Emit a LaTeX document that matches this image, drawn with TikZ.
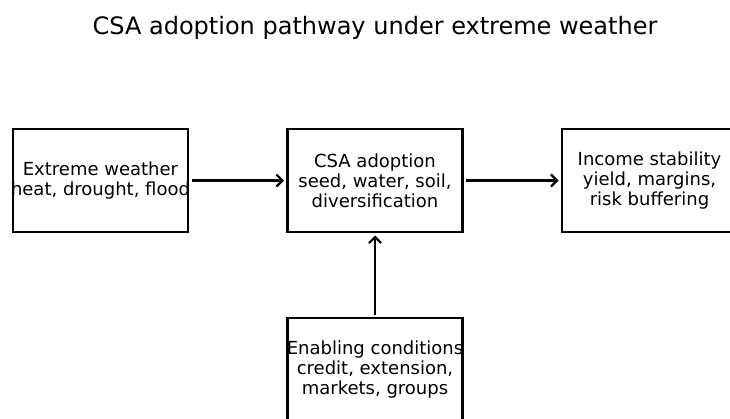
\documentclass[tikz,border=0pt]{standalone}
\usepackage{fontspec}
\setmainfont{DejaVu Sans}
\usetikzlibrary{arrows.meta}
\begin{document}
\begin{tikzpicture}[x=1pt,y=-1pt,
 box/.style={draw, line width=2.5pt, minimum width=175pt, minimum height=103pt, inner sep=0pt, outer sep=0pt},
 lbl/.style={font=\fontsize{18}{20}\selectfont, align=center, inner sep=0pt},
 arr/.style={-{Straight Barb[length=6pt,width=12pt,line width=2.2pt]}, line width=2.2pt, shorten <=3.5pt, shorten >=3.5pt}]
\useasboundingbox (0,0) rectangle (730,418);
\clip (0,0) rectangle (730,418);
\node[font=\fontsize{24}{28}\selectfont] (title) at (375,28) {CSA adoption pathway under extreme weather};
\node[box, path picture={\node[lbl] at (path picture bounding box.center) {Extreme weather\\heat, drought, flood};}] (weather) at (100.5,180.5) {};
\node[box, path picture={\node[lbl] at (path picture bounding box.center) {CSA adoption\\seed, water, soil,\\diversification};}] (csa) at (375,180.5) {};
\node[box, path picture={\node[lbl] at (path picture bounding box.center) {Income stability\\yield, margins,\\risk buffering};}] (income) at (649.5,180.5) {};
\node[box, path picture={\node[lbl] at (path picture bounding box.center) {Enabling conditions\\credit, extension,\\markets, groups};}] (enabling) at (375,369.5) {};
\draw[arr] (weather.east) -- (csa.west);
\draw[arr] (csa.east) -- (income.west);
\draw[arr] (enabling.north) -- (csa.south);
\end{tikzpicture}
\end{document}
